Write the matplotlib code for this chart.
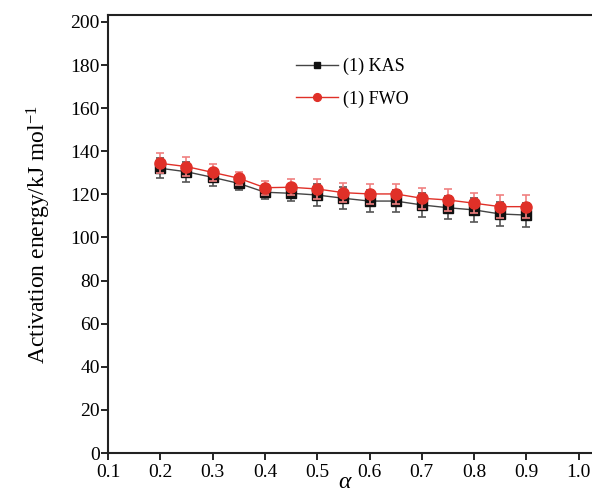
import matplotlib
matplotlib.use('Agg')
import matplotlib.pyplot as plt

plt.rcParams['font.family'] = ['Liberation Serif', 'DejaVu Serif']
plt.rcParams['mathtext.fontset'] = 'custom'
plt.rcParams['mathtext.rm'] = 'Liberation Serif'
plt.rcParams['mathtext.it'] = 'Liberation Serif:italic'

alpha = [0.2, 0.25, 0.3, 0.35, 0.4, 0.45, 0.5, 0.55, 0.6, 0.65, 0.7, 0.75, 0.8, 0.85, 0.9]
kas = [132.1, 130.5, 127.9, 125.1, 121.0, 120.5, 119.7, 118.2, 116.9, 116.9, 115.1, 113.8, 112.8, 110.9, 110.4]
kas_err = [4.6, 4.6, 3.9, 3.1, 3.3, 3.6, 4.9, 5.0, 4.9, 4.9, 5.6, 5.4, 5.6, 5.7, 5.7]
fwo = [134.4, 132.9, 130.2, 127.5, 123.1, 123.3, 122.5, 120.8, 120.2, 120.2, 118.2, 117.4, 115.9, 114.3, 114.3]
fwo_err = [4.7, 4.6, 3.9, 3.0, 3.3, 3.8, 4.6, 4.3, 4.5, 4.5, 4.9, 5.1, 4.6, 5.4, 5.4]

fig = plt.figure(figsize=(5.92, 4.95), dpi=100)
# axes run past the right edge of the figure, like the cropped original
ax = fig.add_axes([0.1824, 0.0848, 0.88, 0.8848])

ax.errorbar(alpha, kas, yerr=kas_err, fmt='none', ecolor='#555555', elinewidth=1.2,
            capsize=3, capthick=1.2, zorder=2)
ax.plot(alpha, kas, color='#444444', lw=1.0, marker='s', ms=6.5, mfc='#111111',
        mec='#111111', label='(1) KAS', zorder=3)
ax.errorbar(alpha, fwo, yerr=fwo_err, fmt='none', ecolor='#f08080', elinewidth=1.2,
            capsize=3, capthick=1.2, zorder=4)
ax.plot(alpha, fwo, color='#e03028', lw=1.0, marker='o', ms=8, mfc='#e03028',
        mec='#e03028', label='(1) FWO', zorder=5)

ax.set_xlim(0.1, 1.096)
ax.set_ylim(0, 203.2)
ax.set_xticks([0.1, 0.2, 0.3, 0.4, 0.5, 0.6, 0.7, 0.8, 0.9, 1.0])
ax.set_xticklabels(['0.1', '0.2', '0.3', '0.4', '0.5', '0.6', '0.7', '0.8', '0.9', '1.0'])
ax.set_yticks(range(0, 201, 20))

ax.spines['right'].set_visible(False)
for s in ['left', 'bottom', 'top']:
    ax.spines[s].set_linewidth(1.5)
    ax.spines[s].set_color('#222222')
ax.tick_params(direction='out', length=5, width=1.2, labelsize=14,
               top=False, right=False)
ax.tick_params(axis='x', pad=3)
ax.tick_params(axis='y', pad=1)

ax.set_xlabel(r'$\mathit{\alpha}$', fontsize=17)
ax.xaxis.label.set_verticalalignment('bottom')
ax.xaxis.set_label_coords(0.455, -0.092)
ax.set_ylabel(r'Activation energy/kJ mol$^{-1}$', fontsize=17, labelpad=12)

ax.legend(loc='upper left', bbox_to_anchor=(0.33, 0.94), frameon=False, fontsize=13,
          markerscale=0.7, handlelength=2.3, labelspacing=0.85, handletextpad=0.3)

fig.savefig('out.png', dpi=100)
